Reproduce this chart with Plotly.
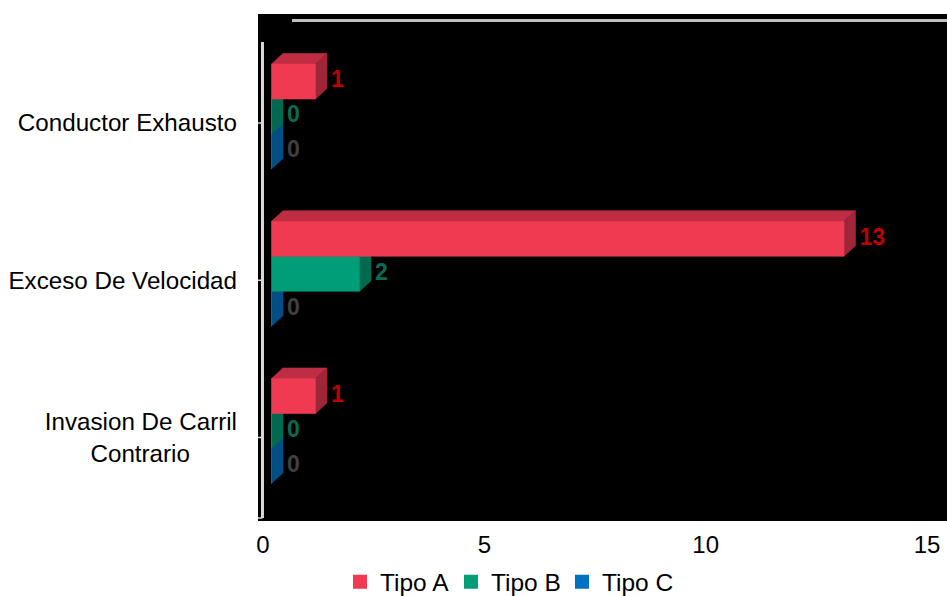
import plotly.graph_objects as go

# ---------------- data ----------------
categories = ["Conductor Exhausto", "Exceso De Velocidad", "Invasion De Carril Contrario"]
category_ticktext = ["Conductor Exhausto", "Exceso De Velocidad",
                     "Invasion De Carril<br>Contrario" + "\u00a0" * 7]
series_names = ["Tipo A", "Tipo B", "Tipo C"]
tipo_a = [1, 13, 1]
tipo_b = [0, 2, 0]
tipo_c = [0, 0, 0]
x_tick_values = [0, 5, 10, 15]

# ---------------- style ----------------
FONT = "Liberation Sans, Arial, sans-serif"
front_colors = ["#EF3A52", "#009E78", "#0070C0"]
top_colors = ["#BE2D42", "#007E60", "#005A9A"]
side_colors = ["#9E2638", "#006A50", "#004E86"]
label_colors = ["#C00000", "#0B6B52", "#404040"]

BAR_H = 0.2226        # bar thickness (y units, 1 = category spacing)
GROUP_START = -0.3752  # offset of first bar top from category position
DX = 0.261            # 3D depth offset along x (value units)
DY = -0.0668          # 3D depth offset along y (category units)
LABEL_PAD = 0.09

values = [tipo_a, tipo_b, tipo_c]
ypos = list(range(len(categories)))

fig = go.Figure()

def poly(points_list):
    xs, ys = [], []
    for pts in points_list:
        for (px, py) in pts:
            xs.append(px)
            ys.append(py)
        xs.append(pts[0][0]); ys.append(pts[0][1])
        xs.append(None); ys.append(None)
    return xs, ys

# draw back series first so front ones occlude correctly (C, B, A)
for s in reversed(range(len(series_names))):
    vals = values[s]
    tops, sides, fronts = [], [], []
    for i, v in enumerate(vals):
        t = ypos[i] + GROUP_START + s * BAR_H
        b = t + BAR_H
        fronts.append([(0, t), (v, t), (v, b), (0, b)])
        tops.append([(0, t), (v, t), (v + DX, t + DY), (DX, t + DY)])
        sides.append([(v, t), (v + DX, t + DY), (v + DX, b + DY), (v, b)])
    for pts, col in ((tops, top_colors[s]), (sides, side_colors[s]), (fronts, front_colors[s])):
        xs, ys = poly(pts)
        fig.add_trace(go.Scatter(x=xs, y=ys, mode="lines", fill="toself",
                                 fillcolor=col, line=dict(color=col, width=0.6),
                                 xaxis="x2", yaxis="y", showlegend=False,
                                 hoverinfo="skip"))
    # data labels
    fig.add_trace(go.Scatter(
        x=[v + DX + LABEL_PAD for v in vals],
        y=[ypos[i] + GROUP_START + s * BAR_H + BAR_H / 2 for i in range(len(vals))],
        mode="text", text=[str(v) for v in vals], textposition="middle right",
        textfont=dict(family=FONT, size=23, color=label_colors[s], weight="bold"),
        xaxis="x2", yaxis="y", showlegend=False, hoverinfo="skip"))

# legend entries
for s, name in enumerate(series_names):
    fig.add_trace(go.Scatter(x=[None], y=[None], mode="markers", name=name,
                             marker=dict(symbol="square", size=14, color=front_colors[s]),
                             xaxis="x", yaxis="y", legendrank=s + 1))

# 3D frame lines
shapes = [
    dict(type="line", xref="paper", yref="paper", x0=0.0493, x1=1.0, y0=0.9872, y1=0.9872,
         line=dict(color="#BFBFBF", width=3)),
    dict(type="line", xref="paper", yref="paper", x0=0.0065, x1=0.0065, y0=0.0059, y1=0.9448,
         line=dict(color="#D9D9D9", width=3)),
]
for i in ypos:
    shapes.append(dict(type="line", xref="paper", yref="y", x0=0.0, x1=0.0065, y0=i, y1=i,
                       line=dict(color="#D9D9D9", width=1.5)))
shapes.append(dict(type="line", xref="paper", yref="paper", x0=0.0, x1=0.0065, y0=0.0059, y1=0.0059,
                   line=dict(color="#D9D9D9", width=1.5)))

fig.update_layout(
    width=947, height=596,
    margin=dict(l=258, r=0, t=14, b=75, pad=0, autoexpand=False),
    paper_bgcolor="white", plot_bgcolor="black",
    font=dict(family=FONT, size=24, color="black"),
    xaxis=dict(range=[-0.1129, 15.451], tickvals=x_tick_values, showgrid=False,
               zeroline=False, showline=False, ticks="", ticklabelstandoff=7,
               tickfont=dict(size=24, color="black")),
    xaxis2=dict(range=[-0.3065, 15.338], overlaying="x", visible=False),
    yaxis=dict(range=[2.531, -0.6932], tickvals=ypos, ticktext=category_ticktext,
               showgrid=False, zeroline=False, showline=False, ticks="",
               ticklabelstandoff=20, tickfont=dict(size=24.2, color="black")),
    legend=dict(orientation="h", x=0.119, xanchor="left", y=-0.12, yanchor="middle",
                font=dict(size=24.5, color="black"), itemwidth=30,
                entrywidth=66, entrywidthmode="pixels"),
    shapes=shapes,
    showlegend=True,
)

fig.write_html("out.html")
